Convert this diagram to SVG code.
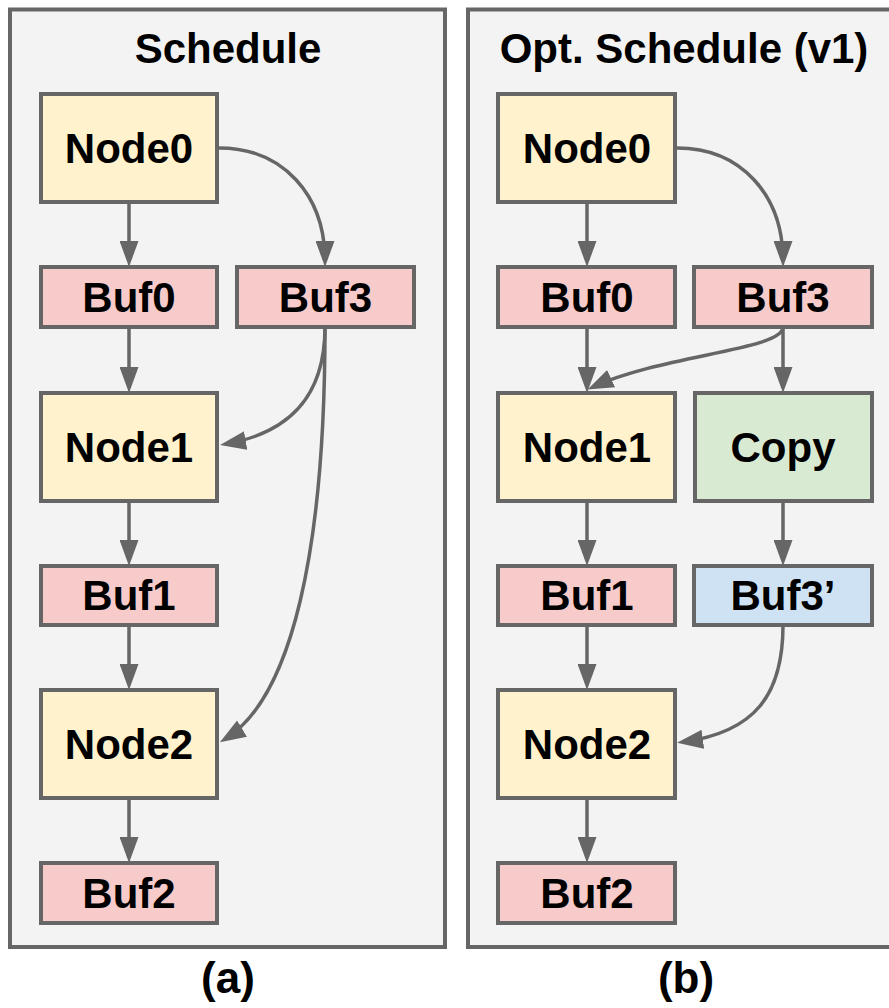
<svg xmlns="http://www.w3.org/2000/svg" width="889" height="1008" viewBox="0 0 889 1008">
  <style>
    .panel { fill: #f3f3f3; stroke: #666666; stroke-width: 4; }
    .box { stroke: #666666; stroke-width: 4; }
    .op { fill: #fff2cc; }
    .buf { fill: #f8cbcb; }
    .copy { fill: #d9ead3; }
    .buf2 { fill: #cfe2f3; }
    text { font-family: "Liberation Sans", Arial, sans-serif; font-weight: bold; fill: #000000; text-anchor: middle; }
    .lbl { font-size: 42px; }
    .title { font-size: 42px; }
    .cap { font-size: 44px; }
    .edge { fill: none; stroke: #666666; stroke-width: 3.5; marker-end: url(#arrow); }
  </style>
  <defs>
    <marker id="arrow" markerUnits="userSpaceOnUse" markerWidth="26" markerHeight="19" viewBox="0 0 26 19" refX="20" refY="9.5" orient="auto">
      <path d="M0,0 L26,9.5 L0,19 z" fill="#666666"/>
    </marker>
  </defs>

  <!-- panel frames -->
  <g id="panel-a">
    <rect class="panel" x="10" y="9.5" width="435" height="937.5"/>
    <text class="title" x="228" y="63">Schedule</text>
  </g>
  <g id="panel-b">
    <rect class="panel" x="468" y="9.5" width="440" height="937.5"/>
    <text class="title" x="684" y="63">Opt. Schedule (v1)</text>
  </g>

  <!-- connectors -->
  <g id="connectors">
    <!-- (a) -->
    <path class="edge" d="M129,202 L129,261"/>
    <path class="edge" d="M129,327 L129,387"/>
    <path class="edge" d="M129,501 L129,560"/>
    <path class="edge" d="M129,625 L129,684"/>
    <path class="edge" d="M129,798 L129,857"/>
    <path class="edge" d="M219,148 C283,148 325,195 325,261"/>
    <path class="edge" d="M325,327 C325,398 288,433 226,444"/>
    <path class="edge" d="M325,327 C325,550 292,698 225,739"/>
    <!-- (b) -->
    <path class="edge" d="M587,202 L587,261"/>
    <path class="edge" d="M587,327 L587,387"/>
    <path class="edge" d="M587,501 L587,560"/>
    <path class="edge" d="M587,625 L587,684"/>
    <path class="edge" d="M587,798 L587,857"/>
    <path class="edge" d="M677,148 C741,148 783,195 783,261"/>
    <path class="edge" d="M783,327 C783,350 662,355 593,387"/>
    <path class="edge" d="M783,327 L783,387"/>
    <path class="edge" d="M783,501 L783,560"/>
    <path class="edge" d="M783,625 C783,695 755,732 683,742"/>
  </g>

  <!-- (a) nodes -->
  <g id="a-node0"><rect class="box op" x="41" y="94" width="176" height="108"/><text class="lbl" x="129" y="163">Node0</text></g>
  <g id="a-buf0"><rect class="box buf" x="41" y="267" width="176" height="60"/><text class="lbl" x="129" y="312">Buf0</text></g>
  <g id="a-buf3"><rect class="box buf" x="237" y="267" width="177" height="60"/><text class="lbl" x="325.5" y="312">Buf3</text></g>
  <g id="a-node1"><rect class="box op" x="41" y="393" width="176" height="108"/><text class="lbl" x="129" y="462">Node1</text></g>
  <g id="a-buf1"><rect class="box buf" x="41" y="566" width="176" height="59"/><text class="lbl" x="129" y="610">Buf1</text></g>
  <g id="a-node2"><rect class="box op" x="41" y="690" width="176" height="108"/><text class="lbl" x="129" y="759">Node2</text></g>
  <g id="a-buf2"><rect class="box buf" x="41" y="863" width="176" height="60"/><text class="lbl" x="129" y="908">Buf2</text></g>

  <!-- (b) nodes -->
  <g id="b-node0"><rect class="box op" x="498" y="94" width="177" height="108"/><text class="lbl" x="587" y="163">Node0</text></g>
  <g id="b-buf0"><rect class="box buf" x="498" y="267" width="177" height="60"/><text class="lbl" x="587" y="312">Buf0</text></g>
  <g id="b-buf3"><rect class="box buf" x="694" y="267" width="178" height="60"/><text class="lbl" x="783" y="312">Buf3</text></g>
  <g id="b-node1"><rect class="box op" x="498" y="393" width="177" height="108"/><text class="lbl" x="587" y="462">Node1</text></g>
  <g id="b-copy"><rect class="box copy" x="695" y="393" width="177" height="108"/><text class="lbl" x="783" y="462">Copy</text></g>
  <g id="b-buf1"><rect class="box buf" x="498" y="566" width="177" height="59"/><text class="lbl" x="587" y="610">Buf1</text></g>
  <g id="b-buf3p"><rect class="box buf2" x="694" y="566" width="178" height="59"/><text class="lbl" x="783" y="610">Buf3’</text></g>
  <g id="b-node2"><rect class="box op" x="498" y="690" width="177" height="108"/><text class="lbl" x="587" y="759">Node2</text></g>
  <g id="b-buf2"><rect class="box buf" x="498" y="863" width="177" height="60"/><text class="lbl" x="587" y="908">Buf2</text></g>

  <!-- sub-figure captions -->
  <text class="cap" x="228" y="993">(a)</text>
  <text class="cap" x="686" y="993">(b)</text>
</svg>
